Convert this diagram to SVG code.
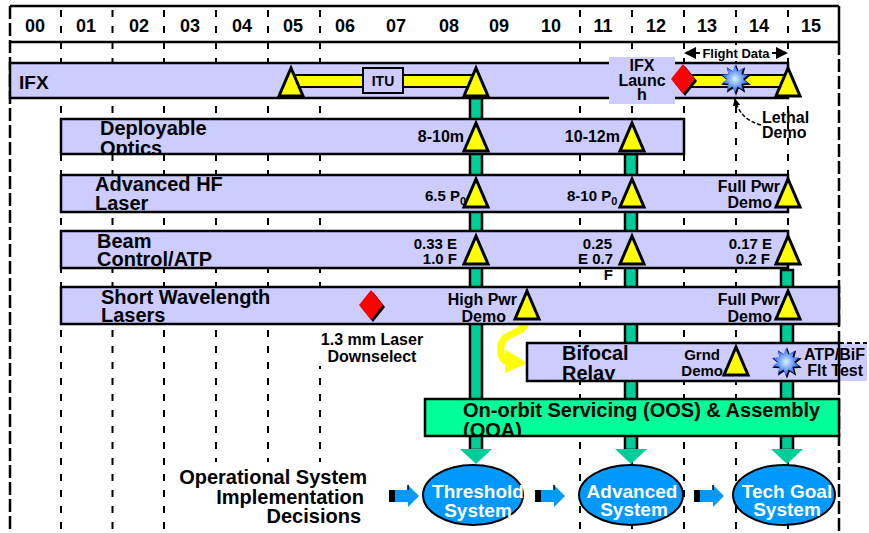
<svg xmlns="http://www.w3.org/2000/svg" width="869" height="533" viewBox="0 0 869 533">
<style>
text{font-family:"Liberation Sans",Arial,sans-serif;font-weight:bold;fill:#000}
.yr{font-size:18px;text-anchor:middle}
.ttl{font-size:20px}
.lbl{font-size:15px;text-anchor:end}
.lbm{font-size:16px;text-anchor:end}
.sm{font-size:16px}
.band{fill:#ccccff;stroke:#000;stroke-width:2.5}
.grid{stroke:#000;stroke-width:2;stroke-dasharray:7 9;fill:none}
.bord{stroke:#000;stroke-width:2.5;stroke-dasharray:13 4;fill:none}
.bar{fill:#00cc99;stroke:#000;stroke-width:2.5}
.yl{fill:#ffff00;stroke:#000;stroke-width:2}
.sys{font-size:19px;fill:#fff;text-anchor:middle}
.ell{fill:#0099ff;stroke:#000;stroke-width:2}
</style>
<defs>
<polygon id="tri" points="0,-14 12,14 -12,14" fill="#ffff00" stroke="#000" stroke-width="3"/>
<g id="dia"><polygon points="2,-13 14,2 2,17 -10,2" fill="#000"/><polygon points="0,-15 12,0 0,15 -12,0" fill="#ff0000"/></g>
<radialGradient id="sg"><stop offset="0" stop-color="#d8f2ff"/><stop offset="1" stop-color="#1a5cff"/></radialGradient>
<g id="star">
<polygon transform="translate(1,1) scale(1.12)" fill="#000" points="0,-14 2.47,-7.61 8.23,-11.33 6.47,-4.7 13.31,-4.33 8,0 13.31,4.33 6.47,4.7 8.23,11.33 2.47,7.61 0,14 -2.47,7.61 -8.23,11.33 -6.47,4.7 -13.31,4.33 -8,0 -13.31,-4.33 -6.47,-4.7 -8.23,-11.33 -2.47,-7.61"/>
<polygon fill="url(#sg)" points="0,-14 2.47,-7.61 8.23,-11.33 6.47,-4.7 13.31,-4.33 8,0 13.31,4.33 6.47,4.7 8.23,11.33 2.47,7.61 0,14 -2.47,7.61 -8.23,11.33 -6.47,4.7 -13.31,4.33 -8,0 -13.31,-4.33 -6.47,-4.7 -8.23,-11.33 -2.47,-7.61"/>
</g>
<g id="barrow">
<rect x="0" y="-6" width="9" height="12" fill="#000"/>
<polygon points="6,-6 19,-6 19,-11 30,0 19,11 19,6 6,6" fill="#0099ff"/>
<polyline points="19,-11 19,-6" stroke="#000" stroke-width="1.5"/>
</g>
<polygon id="garrow" points="-16,0 16,0 0,15" fill="#00cc99"/>
<marker id="ah" viewBox="0 0 10 10" refX="9" refY="5" markerWidth="5" markerHeight="5" orient="auto">
<path d="M0,0 L10,5 L0,10 Z" fill="#000"/>
</marker>
<clipPath id="cDO"><rect x="62" y="120" width="621" height="33"/></clipPath>
<clipPath id="cHF"><rect x="62" y="176" width="725" height="35"/></clipPath>
<clipPath id="cBC"><rect x="62" y="232" width="725" height="35"/></clipPath>
<clipPath id="cSW"><rect x="62" y="288" width="776" height="35"/></clipPath>
<clipPath id="cBR"><rect x="528" y="344" width="310" height="36"/></clipPath>
<clipPath id="cOO"><rect x="426" y="400" width="412" height="35"/></clipPath>
</defs>

<g id="grid">
<line x1="10" y1="6" x2="839" y2="6" stroke="#000" stroke-width="2.5"/>
<line x1="10" y1="42" x2="839" y2="42" stroke="#000" stroke-width="2.5"/>
<line class="bord" x1="10" y1="6" x2="10" y2="533"/>
<line x1="839" y1="6" x2="839" y2="42" stroke="#000" stroke-width="2.5"/>
<line class="bord" x1="839" y1="42" x2="839" y2="533"/>
<g class="grid">
<line x1="61" y1="10" x2="61" y2="533"/>
<line x1="112.5" y1="10" x2="112.5" y2="533"/>
<line x1="164" y1="10" x2="164" y2="533"/>
<line x1="216" y1="10" x2="216" y2="533"/>
<line x1="268" y1="10" x2="268" y2="533"/>
<line x1="320" y1="10" x2="320" y2="533"/>
<line x1="580" y1="10" x2="580" y2="533"/>
<line x1="632" y1="10" x2="632" y2="533"/>
<line x1="684" y1="10" x2="684" y2="533"/>
<line x1="736" y1="10" x2="736" y2="533"/>
<line x1="788" y1="10" x2="788" y2="533"/>
</g>
</g>

<g id="years">
<rect x="12" y="8" width="825" height="32" fill="none"/>
<text class="yr" x="35" y="32">00</text>
<text class="yr" x="86" y="32">01</text>
<text class="yr" x="139" y="32">02</text>
<text class="yr" x="190" y="32">03</text>
<text class="yr" x="242" y="32">04</text>
<text class="yr" x="293" y="32">05</text>
<text class="yr" x="345" y="32">06</text>
<text class="yr" x="396" y="32">07</text>
<text class="yr" x="449" y="32">08</text>
<text class="yr" x="499" y="32">09</text>
<text class="yr" x="551" y="32">10</text>
<text class="yr" x="603" y="32">11</text>
<text class="yr" x="656" y="32">12</text>
<text class="yr" x="707" y="32">13</text>
<text class="yr" x="759" y="32">14</text>
<text class="yr" x="811" y="32">15</text>
</g>

<g id="connectors">
<rect class="bar" x="470" y="98" width="12" height="352"/>
<rect class="bar" x="625" y="154" width="12" height="296"/>
<rect class="bar" x="781" y="270" width="12" height="180"/>
<use href="#garrow" x="476" y="449"/>
<use href="#garrow" x="631" y="449"/>
<use href="#garrow" x="787" y="449"/>
<path d="M527,320 C524,335 502,332 501,346 C500,358 504,362 510,362" fill="none" stroke="#ffff00" stroke-width="7"/>
<polygon points="506,350 527,363 505,373" fill="#ffff00"/>
<path d="M761,125 C746,121 738,112 735,99" fill="none" stroke="#000" stroke-width="1.5" stroke-dasharray="4 2" marker-end="url(#ah)"/>
<use href="#barrow" x="389" y="496"/>
<use href="#barrow" x="535" y="496"/>
<use href="#barrow" x="694" y="496"/>
</g>

<g id="ifx">
<rect class="band" x="10" y="63" width="778" height="35"/>
<text x="19" y="89" style="font-size:19px">IFX</text>
<rect class="yl" x="291" y="75" width="185" height="12"/>
<rect class="yl" x="683" y="75" width="105" height="12"/>
<rect x="363" y="68" width="40" height="25" fill="#ccccff" stroke="#000" stroke-width="2"/>
<text x="383" y="86" style="font-size:14px;text-anchor:middle">ITU</text>
<use href="#tri" x="291" y="82"/>
<use href="#tri" x="476" y="82"/>
<use href="#tri" x="788" y="82"/>
<rect x="609" y="57" width="66" height="47" fill="#ccccff"/>
<text class="sm" x="642" y="71" text-anchor="middle">IFX</text>
<text class="sm" x="642" y="86" text-anchor="middle">Launc</text>
<text class="sm" x="642" y="100" text-anchor="middle">h</text>
<use href="#dia" x="683" y="79"/>
<use href="#star" x="735" y="79"/>
</g>

<g id="flight-data">
<line x1="690" y1="53" x2="782" y2="53" stroke="#000" stroke-width="2"/>
<polygon points="684,53 696,47 696,59" fill="#000"/>
<polygon points="788,53 776,47 776,59" fill="#000"/>
<rect x="700" y="45" width="72" height="16" fill="#fff"/>
<text x="736" y="58" style="font-size:13px;text-anchor:middle">Flight Data</text>
</g>

<g id="lethal">
<text class="sm" x="762" y="123">Lethal</text>
<text class="sm" x="762" y="138">Demo</text>
</g>

<g id="deployable-optics">
<rect class="band" x="61" y="119" width="623" height="35"/>
<g clip-path="url(#cDO)">
<text class="ttl" x="100" y="135">Deployable</text>
<text class="ttl" x="100" y="155">Optics</text>
</g>
<text class="lbm" x="464" y="142">8-10m</text>
<text class="lbm" x="620" y="142">10-12m</text>
<use href="#tri" x="476" y="137"/>
<use href="#tri" x="632" y="137"/>
</g>

<g id="advanced-hf-laser">
<rect class="band" x="61" y="175" width="727" height="37"/>
<g clip-path="url(#cHF)">
<text class="ttl" x="95" y="191">Advanced HF</text>
<text class="ttl" x="95" y="210">Laser</text>
</g>
<text x="425" y="201" style="font-size:15px">6.5 P<tspan dy="4" style="font-size:11px">0</tspan></text>
<text x="567" y="201" style="font-size:15px">8-10 P<tspan dy="4" style="font-size:11px">0</tspan></text>
<text class="lbm" x="780" y="192">Full Pwr</text>
<text class="lbm" x="772" y="208">Demo</text>
<use href="#tri" x="476" y="193"/>
<use href="#tri" x="632" y="193"/>
<use href="#tri" x="788" y="193"/>
</g>

<g id="beam-control">
<rect class="band" x="61" y="231" width="727" height="37"/>
<g clip-path="url(#cBC)">
<text class="ttl" x="97" y="248">Beam</text>
<text class="ttl" x="97" y="266">Control/ATP</text>
</g>
<text class="lbl" x="457" y="249">0.33 E</text>
<text class="lbl" x="457" y="264">1.0 F</text>
<text class="lbl" x="612" y="249">0.25</text>
<text class="lbl" x="613" y="264">E 0.7</text>
<text class="lbl" x="613" y="280">F</text>
<text class="lbl" x="772" y="249">0.17 E</text>
<text class="lbl" x="770" y="264">0.2 F</text>
<use href="#tri" x="476" y="250"/>
<use href="#tri" x="632" y="250"/>
<use href="#tri" x="788" y="250"/>
</g>

<g id="short-wavelength-lasers">
<rect class="band" x="61" y="287" width="778" height="37"/>
<g clip-path="url(#cSW)">
<text class="ttl" x="101" y="304">Short Wavelength</text>
<text class="ttl" x="101" y="322">Lasers</text>
</g>
<use href="#dia" x="371" y="305"/>
<text class="lbm" x="517" y="305">High Pwr</text>
<text class="lbm" x="506" y="322">Demo</text>
<text class="lbm" x="780" y="305">Full Pwr</text>
<text class="lbm" x="772" y="322">Demo</text>
<use href="#tri" x="527" y="305"/>
<use href="#tri" x="788" y="305"/>
</g>

<g id="downselect">
<rect x="318" y="328" width="108" height="38" fill="#fff"/>
<text class="sm" x="372" y="345" text-anchor="middle">1.3 mm Laser</text>
<text class="sm" x="372" y="362" text-anchor="middle">Downselect</text>
</g>

<g id="bifocal-relay">
<rect x="839" y="343" width="28" height="38" fill="#ccccff"/>
<line x1="839" y1="343" x2="867" y2="343" stroke="#000" stroke-width="2" stroke-dasharray="5 3"/>
<rect class="band" x="527" y="343" width="312" height="38"/>
<g clip-path="url(#cBR)">
<text class="ttl" x="562" y="360">Bifocal</text>
<text class="ttl" x="562" y="380">Relay</text>
</g>
<text class="lbl" x="720" y="360">Grnd</text>
<text class="lbl" x="723" y="376">Demo</text>
<use href="#tri" x="736" y="361"/>
<use href="#star" x="786" y="362"/>
<text class="lbm" x="865" y="360">ATP/BiF</text>
<text class="lbm" x="863" y="376">Flt Test</text>
</g>

<g id="oos">
<rect x="425" y="399" width="414" height="37" fill="#00ff99" stroke="#000" stroke-width="2.5"/>
<g clip-path="url(#cOO)">
<text class="ttl" x="463" y="417">On-orbit Servicing (OOS) &amp; Assembly</text>
<text class="ttl" x="463" y="437">(OOA)</text>
</g>
</g>

<g id="decisions">
<rect x="172" y="462" width="198" height="71" fill="#fff"/>
<text class="ttl" x="367" y="484" text-anchor="end">Operational System</text>
<text class="ttl" x="364" y="504" text-anchor="end">Implementation</text>
<text class="ttl" x="361" y="523" text-anchor="end">Decisions</text>
</g>

<g id="threshold-system">
<ellipse class="ell" cx="473" cy="495" rx="50" ry="30"/>
<text class="sys" x="478" y="498">Threshold</text>
<text class="sys" x="478" y="517">System</text>
</g>
<g id="advanced-system">
<ellipse class="ell" cx="631" cy="495" rx="52" ry="30"/>
<text class="sys" x="632" y="498">Advanced</text>
<text class="sys" x="634" y="516">System</text>
</g>
<g id="tech-goal-system">
<ellipse class="ell" cx="784" cy="495" rx="51" ry="30"/>
<text class="sys" x="787" y="498">Tech Goal</text>
<text class="sys" x="787" y="516">System</text>
</g>
</svg>
